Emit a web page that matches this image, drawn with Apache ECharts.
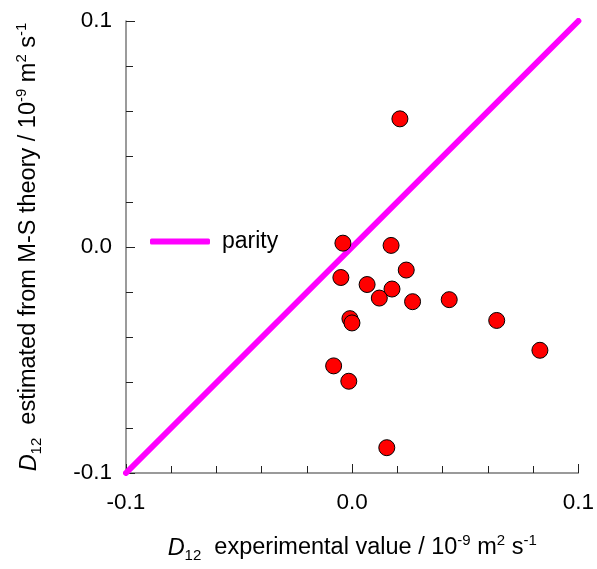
<!DOCTYPE html>
<html>
<head>
<meta charset="utf-8">
<script src="https://cdn.jsdelivr.net/npm/echarts@6/dist/echarts.min.js"></script>
<style>
  html, body { margin: 0; padding: 0; background: #fff; }
  #chart { width: 597px; height: 569px; }
</style>
</head>
<body>
<div id="chart"></div>
<script>
// D12 experimental vs estimated (10^-9 m2 s-1)
const expX = [0.0211, -0.0041, 0.0172, 0.0239, -0.0050, 0.0066, 0.0176, 0.0120, 0.0267,
  0.0429, -0.0010, -0.0001, 0.0639, 0.0830, -0.0082, -0.0015, 0.0153];
const estY = [0.0567, 0.0017, 0.0007, -0.0102, -0.0135, -0.0166, -0.0186, -0.0226, -0.0242,
  -0.0233, -0.0317, -0.0336, -0.0325, -0.0457, -0.0526, -0.0594, -0.0888];
const parityX = [-0.1, 0.1];
const parityY = [-0.1, 0.1];

const font = 'Liberation Sans, Arial, sans-serif';
const rich = {
  i: { fontStyle: 'italic', fontSize: 23.5, fontFamily: font, color: '#000' },
  sub: { fontSize: 15, fontFamily: font, color: '#000', verticalAlign: 'bottom', lineHeight: 12 },
  sup: { fontSize: 15, fontFamily: font, color: '#000', verticalAlign: 'top', lineHeight: 12 }
};

function axisCommon(name, gap) {
  return {
    type: 'value', min: -0.1, max: 0.1, interval: 0.1,
    name: name, nameLocation: 'middle', nameGap: gap,
    nameTextStyle: { fontSize: 23.5, fontFamily: font, color: '#000', lineHeight: 30, rich: rich },
    axisLine: { show: true, onZero: false, lineStyle: { color: '#7a7a7a', width: 1.5 } },
    axisTick: { show: true, inside: true, length: 9, lineStyle: { color: '#222', width: 1 } },
    minorTick: { show: true, splitNumber: 5, length: 7, lineStyle: { color: '#222', width: 1 } },
    splitLine: { show: false },
    axisLabel: { fontSize: 22.5, fontFamily: font, color: '#000', formatter: v => v.toFixed(1) }
  };
}

const chart = echarts.init(document.getElementById('chart'));
const xAxis = axisCommon('{i|D}{sub|12}  experimental value / 10{sup|-9} m{sup|2} s{sup|-1}', 60);
xAxis.axisLabel.margin = 18;
const yAxis = axisCommon('{i|D}{sub|12}  estimated from M-S theory / 10{sup|-9} m{sup|2} s{sup|-1}', 82);
yAxis.axisLabel.margin = 14;

chart.setOption({
  animation: false,
  grid: { left: 126, right: 17, top: 21, bottom: 96 },
  legend: {
    left: 145, top: 225,
    itemWidth: 60, itemHeight: 6, icon: 'roundRect',
    textStyle: { fontSize: 23, fontFamily: font, color: '#000', padding: [0, 0, 0, 7] },
    data: [{ name: 'parity' }]
  },
  xAxis: xAxis,
  yAxis: yAxis,
  series: [
    {
      name: 'parity', type: 'line', symbol: 'none', z: 2,
      data: parityX.map((x, i) => [x, parityY[i]]),
      itemStyle: { color: '#ff00ff' },
      lineStyle: { color: '#ff00ff', width: 6, cap: 'round' }
    },
    {
      name: 'data', type: 'scatter', symbol: 'circle', symbolSize: 16, z: 3,
      data: expX.map((x, i) => [x, estY[i]]),
      itemStyle: { color: '#ff0000', borderColor: '#000', borderWidth: 1, opacity: 1 }
    }
  ]
});
</script>
</body>
</html>
